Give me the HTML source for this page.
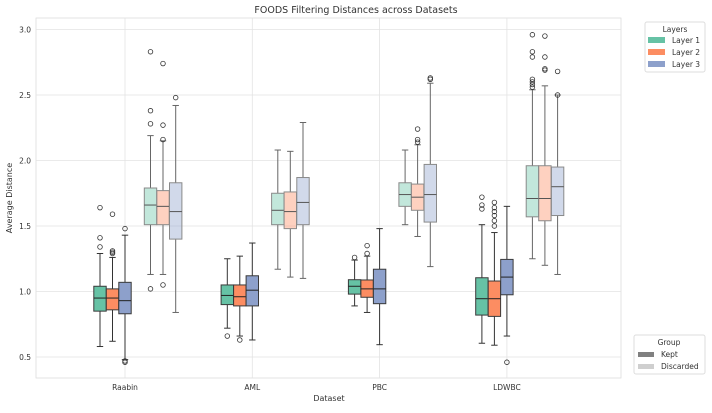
<!DOCTYPE html>
<html><head><meta charset="utf-8"><style>
body{margin:0;background:#fff;font-family:"Liberation Sans",sans-serif}
svg text{font-family:"DejaVu Sans","Liberation Sans",sans-serif;fill:#333}
</style></head><body>
<svg id="chart" width="712" height="408" xmlns="http://www.w3.org/2000/svg">
<rect x="0" y="0" width="712" height="408" fill="#fff"/>
<g id="grid"></g>
<g id="boxes"></g>
<g id="axes"></g>
<text x="356" y="13" text-anchor="middle" font-size="9.5">FOODS Filtering Distances across Datasets</text>
<text transform="translate(12,198) rotate(-90)" text-anchor="middle" font-size="8">Average Distance</text>
<text x="329" y="401" text-anchor="middle" font-size="8">Dataset</text>
<g>
<rect x="645" y="22" width="60" height="50" fill="#fff" stroke="#ddd" rx="2"/>
<text x="675" y="32" text-anchor="middle" font-size="7.5">Layers</text>
<rect x="648" y="37" width="17" height="6" fill="#66c2a5"/><text x="672" y="43" font-size="7.5">Layer 1</text>
<rect x="648" y="49" width="17" height="6" fill="#fc8d62"/><text x="672" y="55" font-size="7.5">Layer 2</text>
<rect x="648" y="61" width="17" height="6" fill="#8da0cb"/><text x="672" y="67" font-size="7.5">Layer 3</text>
</g>
<g>
<rect x="634" y="335" width="71" height="39" fill="#fff" stroke="#ddd" rx="2"/>
<text x="669" y="345" text-anchor="middle" font-size="7.5">Group</text>
<rect x="638" y="352" width="16" height="5" fill="#808080"/><text x="661" y="357" font-size="7.5">Kept</text>
<rect x="638" y="364" width="16" height="5" fill="#cfcfcf"/><text x="661" y="369" font-size="7.5">Discarded</text>
</g>
</svg>
<script>
const categories=["Raabin","AML","PBC","LDWBC"];
const yTicks=[0.5,1.0,1.5,2.0,2.5,3.0];
// each: [lo,q1,med,q3,hi]; order K1,K2,K3,D1,D2,D3
const raabinStats=[[0.58,0.85,0.95,1.04,1.29],[0.62,0.86,0.95,1.02,1.26],[0.48,0.83,0.93,1.07,1.43],[1.13,1.51,1.66,1.79,2.19],[1.13,1.51,1.65,1.77,2.15],[0.84,1.40,1.61,1.83,2.42]];
const amlStats=[[0.72,0.90,0.97,1.05,1.25],[0.66,0.89,0.96,1.05,1.27],[0.63,0.89,1.01,1.12,1.37],[1.17,1.51,1.62,1.75,2.08],[1.11,1.48,1.61,1.76,2.07],[1.10,1.51,1.68,1.87,2.29]];
const pbcStats=[[0.89,0.98,1.04,1.09,1.24],[0.84,0.956,1.02,1.088,1.27],[0.594,0.907,1.02,1.17,1.48],[1.51,1.65,1.74,1.83,2.08],[1.42,1.62,1.72,1.82,2.12],[1.19,1.53,1.74,1.97,2.59]];
const ldwbcStats=[[0.605,0.82,0.945,1.105,1.51],[0.59,0.81,0.945,1.08,1.45],[0.66,0.975,1.11,1.245,1.65],[1.25,1.57,1.71,1.96,2.54],[1.20,1.54,1.71,1.96,2.57],[1.13,1.58,1.80,1.95,2.50]];
const raabinOut=[[1.34,1.41,1.64],[1.29,1.30,1.31,1.59],[1.48,0.46,0.47],[1.02,2.28,2.38,2.83],[1.05,2.16,2.27,2.74],[2.48]];
const amlOut=[[0.66],[0.63],[],[],[],[]];
const pbcOut=[[1.26],[1.29,1.35],[],[],[2.14,2.16,2.24],[2.62,2.63]];
const ldwbcOut=[[1.63,1.66,1.72],[1.50,1.54,1.58,1.61,1.64,1.68],[0.46],[2.56,2.58,2.60,2.62,2.79,2.83,2.96],[2.69,2.70,2.79,2.95],[2.50,2.68]];
const allStats=[raabinStats,amlStats,pbcStats,ldwbcStats];
const allOut=[raabinOut,amlOut,pbcOut,ldwbcOut];
const NS="http://www.w3.org/2000/svg";
const L=36,R=621,T=18,B=378;
const y=v=>29.5+(3.0-v)*131;
const x=i=>125+i*127.3;
const offs=[-25,-12.5,0,25.5,38,50.7];
const cols=["#66c2a5","#fc8d62","#8da0cb"];
function mk(tag,attrs,parent){const e=document.createElementNS(NS,tag);for(const k in attrs)e.setAttribute(k,attrs[k]);parent.appendChild(e);return e;}
const grid=document.getElementById('grid'),axes=document.getElementById('axes'),boxes=document.getElementById('boxes');
mk('rect',{x:L,y:T,width:R-L,height:B-T,fill:'none',stroke:'#ddd','stroke-width':0.8},grid);
yTicks.forEach(t=>{
 const l=mk('line',{x1:L,x2:R,y1:y(t),y2:y(t),stroke:'#e3e3e3','stroke-width':0.8},grid);
 
 
 const tx=mk('text',{x:L-5,y:y(t)+3,'text-anchor':'end','font-size':7.5},axes);
 tx.textContent=t.toFixed(1);
 
 
});
categories.forEach((c,i)=>{
 const l=mk('line',{x1:x(i),x2:x(i),y1:T,y2:B,stroke:'#e3e3e3','stroke-width':0.8},grid);
 
 
 const tx=mk('text',{x:x(i),y:390,'text-anchor':'middle','font-size':7.5},axes);
 tx.textContent=c;
 
 
 allStats[i].forEach((s,j)=>{
  const cx=x(i)+offs[j],w=12.4,disc=j>=3,col=cols[j%3];
  const g=mk('g',{},boxes);
  
  
  const st=disc?'#8a8a8a':'#3a3a3a', wc=disc?'#666':'#333';
  mk('line',{x1:cx,x2:cx,y1:y(s[0]),y2:y(s[1]),stroke:wc,'stroke-width':1},g);
  mk('line',{x1:cx,x2:cx,y1:y(s[3]),y2:y(s[4]),stroke:wc,'stroke-width':1},g);
  mk('line',{x1:cx-3.2,x2:cx+3.2,y1:y(s[0]),y2:y(s[0]),stroke:wc,'stroke-width':1},g);
  mk('line',{x1:cx-3.2,x2:cx+3.2,y1:y(s[4]),y2:y(s[4]),stroke:wc,'stroke-width':1},g);
  mk('rect',{x:cx-w/2,y:y(s[3]),width:w,height:y(s[1])-y(s[3]),fill:col,'fill-opacity':disc?0.4:1,stroke:st,'stroke-width':1},g);
  mk('line',{x1:cx-w/2,x2:cx+w/2,y1:y(s[2]),y2:y(s[2]),stroke:disc?'#555':'#222','stroke-width':1},g);
  allOut[i][j].forEach(o=>{
   const p=mk('circle',{cx:cx,cy:y(o),r:2.3,fill:'none',stroke:'#333','stroke-width':0.8},g);
   
   
  });
 });
});
</script>
</body></html>
